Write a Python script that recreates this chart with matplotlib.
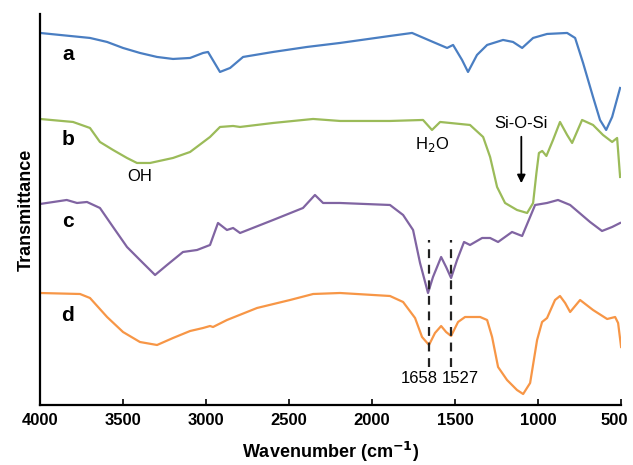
import numpy as np
import matplotlib
matplotlib.use("Agg")
import matplotlib.pyplot as plt
import matplotlib.transforms as mtransforms

plt.rcParams['font.family'] = ['Liberation Sans', 'DejaVu Sans']

# FTIR spectra, offset transmittance (arbitrary units)
wn_a = [4000, 3880, 3699, 3596, 3500, 3398, 3295, 3199, 3096, 3018, 2988, 2916,
        2855, 2777, 2596, 2392, 2193, 1892, 1759, 1633, 1548, 1512, 1458, 1422,
        1368, 1307, 1211, 1151, 1096, 1030, 946, 825, 777, 729, 669, 627,
        590, 554, 506]
t_a = [372, 370, 367, 363, 357, 352, 348, 346, 347, 352, 353, 333,
       337, 348, 353, 358, 362, 369, 372, 363, 357, 360, 345, 333,
       350, 360, 365, 363, 357, 367, 371, 372, 367, 342, 308, 285,
       275, 288, 317]

wn_b = [4000, 3801, 3699, 3639, 3560, 3476, 3416, 3337, 3199, 3096, 2976, 2916,
        2837, 2795, 2596, 2355, 2193, 1892, 1693, 1639, 1590, 1410, 1331, 1289,
        1247, 1199, 1127, 1066, 1030, 1010, 995, 975, 950, 910, 868, 825,
        795, 735, 669, 609, 554, 524, 506]
t_b = [286, 283, 277, 263, 255, 247, 242, 242, 247, 253, 268, 278,
       279, 278, 282, 286, 284, 284, 285, 275, 283, 280, 268, 248,
       218, 202, 195, 192, 202, 232, 252, 254, 249, 265, 283, 270,
       262, 285, 280, 270, 263, 267, 228]

wn_c = [4000, 3839, 3777, 3717, 3639, 3560, 3476, 3398, 3307, 3235, 3139, 3054,
        2976, 2928, 2874, 2837, 2795, 2596, 2416, 2344, 2295, 2193, 1892, 1813,
        1753, 1711, 1663, 1633, 1584, 1554, 1524, 1488, 1446, 1410, 1337, 1289,
        1241, 1157, 1096, 1018, 946, 880, 807, 687, 615, 554, 506]
t_c = [201, 205, 202, 203, 197, 178, 158, 145, 130, 140, 153, 155,
       160, 182, 175, 177, 172, 185, 197, 210, 202, 202, 200, 190,
       175, 142, 112, 128, 148, 138, 127, 145, 163, 160, 167, 167,
       163, 173, 169, 200, 202, 205, 200, 183, 174, 178, 182]

wn_d = [4000, 3759, 3699, 3596, 3500, 3398, 3295, 3199, 3096, 3018, 2976, 2958,
        2874, 2693, 2494, 2355, 2193, 1892, 1813, 1741, 1699, 1657, 1621, 1584,
        1554, 1524, 1482, 1440, 1349, 1307, 1277, 1241, 1187, 1127, 1090, 1048,
        1006, 976, 946, 898, 868, 837, 807, 747, 669, 584, 536, 518, 500]
t_d = [112, 111, 107, 88, 73, 63, 60, 67, 74, 77, 79, 78,
       85, 97, 105, 111, 112, 109, 103, 87, 68, 60, 72, 79,
       73, 69, 83, 88, 88, 85, 68, 38, 25, 15, 11, 22,
       65, 83, 87, 105, 109, 102, 93, 105, 95, 86, 88, 82, 58]

labels = ['a', 'b', 'c', 'd']
label_y = [350, 265, 183, 90]
colors = ['#4A7EC2', '#9BBB59', '#8064A2', '#F79646']
peaks = [1658, 1527]

fig = plt.figure(figsize=(6.33, 4.65), dpi=100)
ax = fig.add_axes([0.0632, 0.129, 0.918, 0.841])

for wn, t, c in zip([wn_a, wn_b, wn_c, wn_d], [t_a, t_b, t_c, t_d], colors):
    ax.plot(wn, t, color=c, lw=1.6, solid_joinstyle='round')

for lab, y in zip(labels, label_y):
    ax.text(3832, y, lab, fontsize=15, fontweight='bold', ha='center', va='center')

ax.text(3399, 228, 'OH', fontsize=12, ha='center', va='center')
ax.text(1637, 260, 'H$_2$O', fontsize=12, ha='center', va='center')
ax.text(1101, 281, 'Si-O-Si', fontsize=12, ha='center', va='center')
ax.annotate('', xy=(1101, 219), xytext=(1101, 271),
            arrowprops=dict(arrowstyle='-|>', color='black', lw=1.3,
                            mutation_scale=12))

for p in peaks:
    ax.plot([p, p], [38, 165], color='#222222', lw=1.6, ls=(0, (4, 3)))
ax.text(1605, 27, str(peaks[0]), fontsize=12, ha='right', va='center')
ax.text(1583, 27, str(peaks[1]), fontsize=12, ha='left', va='center')

ax.set_xlim(4000, 500)
ax.set_ylim(0, 391)
ax.set_xticks([4000, 3500, 3000, 2500, 2000, 1500, 1000, 500])
ax.set_yticks([])
ax.tick_params(axis='x', direction='in', length=4, width=1.2, labelsize=12, pad=6)
for lbl in ax.get_xticklabels():
    lbl.set_fontweight('bold')
last = ax.get_xticklabels()[-1]
last.set_transform(last.get_transform() +
                   mtransforms.ScaledTranslation(-5 / 72, 0, fig.dpi_scale_trans))
ax.spines['top'].set_visible(False)
ax.spines['right'].set_visible(False)
ax.spines['left'].set_linewidth(1.6)
ax.spines['bottom'].set_linewidth(1.6)

ax.set_xlabel('Wavenumber (cm$^{\\mathbf{-1}}$)', fontsize=13, fontweight='bold', labelpad=8)
ax.set_ylabel('Transmittance', fontsize=13, fontweight='bold', labelpad=4)

fig.savefig('out.png', dpi=100)
